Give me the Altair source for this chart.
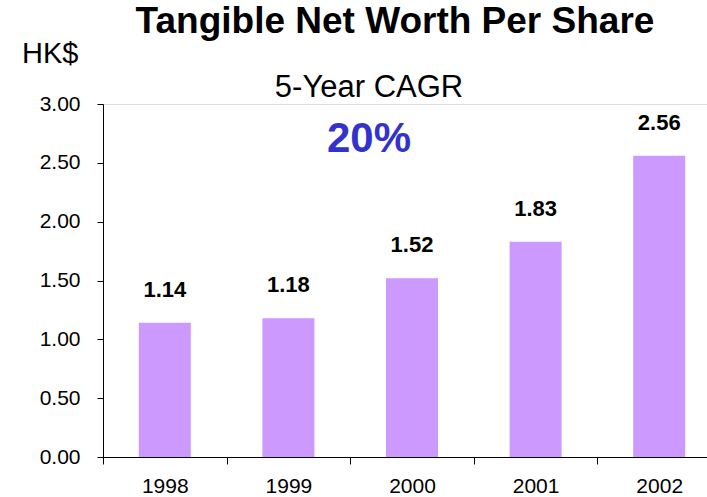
import altair as alt
import pandas as pd

years = ["1998", "1999", "2000", "2001", "2002"]
values = [1.14, 1.18, 1.52, 1.83, 2.56]
y_ticks = [0, 0.5, 1.0, 1.5, 2.0, 2.5, 3.0]
title_text = "Tangible Net Worth Per Share"
unit_text = "HK$"
cagr_label = "5-Year CAGR"
cagr_value = "20%"

FONT = "Liberation Sans, Arial, Helvetica, sans-serif"
BAR = "#CC99FF"
BLUE = "#3333CC"

df = pd.DataFrame({"year": years, "value": values})

W, H = 604, 353
STEP_RANGE = 618  # band range runs past the right edge (cropped original)

x_enc = alt.X(
    "year:N",
    sort=years,
    scale=alt.Scale(range=[0, STEP_RANGE], paddingInner=0, paddingOuter=0),
    axis=alt.Axis(
        title=None, labelAngle=0, tickBand="extent", tickSize=7,
        labelPadding=11, labelFontSize=21, labelFont=FONT, labelColor="black",
        tickColor="black", domainColor="black", grid=False,
    ),
)
y_enc = alt.Y(
    "value:Q",
    scale=alt.Scale(domain=[0, 3], nice=False, zero=True),
    axis=alt.Axis(
        title=None, values=y_ticks, format=".2f", tickSize=6, labelPadding=17,
        labelFontSize=21, labelFont=FONT, labelColor="black",
        tickColor="black", domainColor="black", grid=False,
    ),
)

bars = alt.Chart(df).mark_bar(color=BAR, size=52).encode(x=x_enc, y=y_enc)

labels = alt.Chart(df).mark_text(
    dy=-26, baseline="alphabetic", fontWeight="bold", fontSize=22, font=FONT, color="black"
).encode(x=alt.X("year:N", sort=years), y="value:Q", text=alt.Text("value:Q", format=".2f"))


def note(txt, x, y, size, weight="normal", color="black", align="center"):
    return alt.Chart(pd.DataFrame({"t": [txt]})).mark_text(
        fontSize=size, fontWeight=weight, color=color, font=FONT,
        align=align, baseline="alphabetic",
    ).encode(x=alt.value(x), y=alt.value(y), text="t:N")


title = note(title_text, 292, -71, 37, weight="bold")
unit = note(unit_text, -81, -41, 29, align="left")
cagr1 = note(cagr_label, 266, -7, 31)
cagr2 = note(cagr_value, 266, 48, 42, weight="bold", color=BLUE)

chart = alt.layer(bars, labels, title, unit, cagr1, cagr2).properties(
    width=W, height=H,
    autosize=alt.AutoSizeParams(type="none"),
    padding={"left": 103, "top": 104, "right": 0, "bottom": 40},
).configure_view(stroke=None).configure(background="white")

chart.save("out.html", embed_options={"renderer": "svg", "actions": False})
